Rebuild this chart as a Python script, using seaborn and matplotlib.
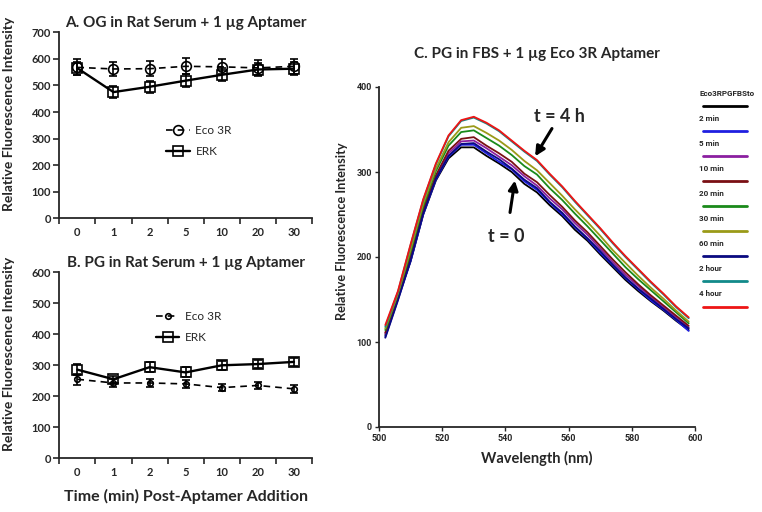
import numpy as np
import pandas as pd
import matplotlib
matplotlib.use("Agg")
import matplotlib.pyplot as plt
import seaborn as sns
from matplotlib.lines import Line2D
from matplotlib import font_manager

# ---------------- data: panels A and B ----------------
times = ["0", "1", "2", "5", "10", "20", "30"]
a_eco = [568, 562, 563, 572, 570, 566, 572]
a_eco_err = [30, 28, 28, 30, 28, 28, 28]
a_erk = [565, 475, 495, 518, 540, 560, 563]
a_erk_err = [25, 22, 22, 25, 25, 25, 25]
b_eco = [255, 243, 243, 240, 228, 235, 224]
b_eco_err = [18, 12, 12, 14, 12, 12, 12]
b_erk = [286, 255, 294, 277, 300, 304, 311]
b_erk_err = [18, 12, 16, 16, 14, 14, 14]

# ---------------- data: panel C (spectra) ----------------
wavelength = [502, 506, 510, 514, 518, 522, 526, 530, 534, 538, 542, 546, 550,
              554, 558, 562, 566, 570, 574, 578, 582, 586, 590, 594, 598]
spec_t0 = [108, 152, 195, 250, 290, 316, 329, 329, 319, 310, 300, 286, 276,
           261, 248, 232, 219, 203, 188, 173, 160, 148, 137, 125, 114]
spec_2min = [106, 150, 195, 250, 291, 318, 332, 332, 322, 312, 303, 289, 279,
             264, 250, 235, 221, 205, 190, 175, 162, 149, 138, 126, 113]
spec_5min = [110, 153, 199, 254, 294, 322, 336, 337, 328, 318, 308, 295, 284,
             269, 256, 240, 226, 210, 194, 179, 166, 153, 141, 129, 117]
spec_10min = [111, 154, 201, 256, 296, 325, 339, 341, 331, 322, 312, 298, 288,
              273, 259, 243, 229, 213, 197, 182, 168, 155, 143, 131, 119]
spec_20min = [114, 156, 206, 260, 301, 331, 347, 349, 340, 331, 320, 307, 297,
              281, 267, 251, 236, 220, 204, 188, 174, 161, 148, 135, 122]
spec_30min = [116, 157, 209, 263, 304, 335, 352, 354, 346, 337, 326, 313, 302,
              287, 272, 256, 241, 225, 208, 193, 178, 164, 151, 137, 124]
spec_60min = [105, 149, 196, 251, 292, 319, 333, 334, 324, 315, 304, 291, 281,
              265, 252, 236, 222, 207, 191, 176, 163, 151, 139, 127, 116]
spec_2hour = [118, 159, 214, 267, 309, 342, 360, 364, 357, 348, 336, 324, 313,
              297, 282, 265, 249, 233, 216, 200, 185, 170, 156, 141, 128]
spec_4hour = [120, 160, 215, 268, 310, 343, 361, 365, 358, 349, 337, 325, 314,
              298, 283, 266, 250, 234, 217, 201, 186, 171, 157, 142, 129]
spec_labels = ["Eco3RPGFBSto", "2 min", "5 min", "10 min", "20 min", "30 min",
               "60 min", "2 hour", "4 hour"]
spec_colors = ["#000000", "#1f1fe0", "#8b1fa0", "#7a0f14", "#1a8a1a",
               "#9a9a18", "#0a0a80", "#128a8a", "#ee1515"]
spectra = [spec_t0, spec_2min, spec_5min, spec_10min, spec_20min, spec_30min,
           spec_60min, spec_2hour, spec_4hour]

# ---------------- style ----------------
sns.set_theme(style="ticks")
plt.rcParams['font.family'] = ['Lato', 'DejaVu Sans']
plt.rcParams['axes.linewidth'] = 1.3

installed = {f.name for f in font_manager.fontManager.ttflist}
narrow = ['Liberation Sans Narrow', 'DejaVu Sans'] \
    if 'Liberation Sans Narrow' in installed else ['Roboto', 'DejaVu Sans']

W, H = 762, 512
fig = plt.figure(figsize=(W / 100, H / 100), dpi=100)


def fx(px):
    return px / W


def fy(py):
    return 1 - py / H


def panel(rect, eco, eco_err, erk, erk_err, ymax, title, eco_ms, leg_anchor):
    ax = fig.add_axes(rect)
    x = np.arange(len(times))
    df_eco = pd.DataFrame({"x": x, "y": eco})
    df_erk = pd.DataFrame({"x": x, "y": erk})
    ax.errorbar(x, eco, yerr=eco_err, fmt="none", ecolor="black",
                elinewidth=1.2, capsize=3, capthick=1.2, zorder=2)
    ax.errorbar(x, erk, yerr=erk_err, fmt="none", ecolor="black",
                elinewidth=1.2, capsize=3, capthick=1.2, zorder=2)
    sns.lineplot(data=df_eco, x="x", y="y", ax=ax, color="black", lw=1.2,
                 linestyle=(0, (4, 3)), marker="o", markersize=eco_ms,
                 markerfacecolor="none", markeredgecolor="black",
                 markeredgewidth=1.2, label="Eco 3R", zorder=3)
    sns.lineplot(data=df_erk, x="x", y="y", ax=ax, color="black", lw=1.7,
                 marker="s", markersize=7.5, markerfacecolor="none",
                 markeredgecolor="black", markeredgewidth=1.2, label="ERK",
                 zorder=3)
    ax.set_xlim(-0.5, len(times) - 0.5)
    ax.set_ylim(0, ymax)
    ax.set_yticks(np.arange(0, ymax + 1, 100))
    ax.set_xticks(np.arange(-0.5, len(times), 1.0))
    ax.set_xticklabels([])
    ax.set_xticks(x, minor=True)
    ax.set_xticklabels(times, minor=True)
    ax.tick_params(axis="x", which="minor", length=0, pad=6)
    ax.tick_params(axis="x", which="major", length=4, width=1.2, direction="out")
    ax.tick_params(axis="y", length=4, width=1.2, direction="out", pad=2)
    for lab in ax.get_xticklabels(minor=True) + ax.get_yticklabels():
        lab.set_fontsize(8)
        lab.set_fontweight("bold")
    ax.set_xlabel("")
    ax.set_ylabel("Relative Fluorescence Intensity", fontsize=10,
                  fontweight="bold")
    ax.yaxis.set_label_coords(-0.175, 0.56)
    ax.set_title(title, fontsize=11, fontweight="bold", pad=4)
    sns.despine(ax=ax)
    ax.legend(loc="upper left", bbox_to_anchor=leg_anchor, frameon=False,
              fontsize=8.5, handlelength=2.0, handletextpad=0.5,
              labelspacing=0.9)
    return ax


axA = panel([fx(59.3), fy(218.3), fx(312 - 59.3), (218.3 - 32.3) / H],
            a_eco, a_eco_err, a_erk, a_erk_err, 700,
            "A. OG in Rat Serum + 1 µg Aptamer", 7, (0.38, 0.56))
axB = panel([fx(59.3), fy(458.3), fx(312 - 59.3), (458.3 - 272.3) / H],
            b_eco, b_eco_err, b_erk, b_erk_err, 600,
            "B. PG in Rat Serum + 1 µg Aptamer", 4, (0.34, 0.85))
axB.set_xlabel("Time (min) Post-Aptamer Addition", fontsize=11.5,
               fontweight="bold", labelpad=8)

# ---------------- panel C ----------------
axC = fig.add_axes([fx(379), fy(427), fx(695 - 379), (427 - 87) / H])
for lab, col, spec in zip(spec_labels, spec_colors, spectra):
    sns.lineplot(x=wavelength, y=spec, ax=axC, color=col, lw=1.3)
axC.set_xlim(500, 600)
axC.set_ylim(0, 400)
axC.set_xticks(np.arange(500, 601, 20))
axC.set_yticks(np.arange(0, 401, 100))
axC.tick_params(length=3, width=1.0, direction="out", pad=2)
for lab in axC.get_xticklabels() + axC.get_yticklabels():
    lab.set_fontsize(6.5)
    lab.set_fontweight("bold")
    lab.set_family(narrow)
sns.despine(ax=axC)
axC.set_xlabel("Wavelength (nm)", fontsize=10.5, fontweight="bold", labelpad=6)
axC.set_ylabel("Relative Fluorescence Intensity", fontsize=9.2,
               fontweight="bold")
axC.yaxis.set_label_coords(-0.097, 0.577)
axC.set_title("C. PG in FBS + 1 µg Eco 3R Aptamer", fontsize=11,
              fontweight="bold", pad=21)

axC.annotate("t = 4 h", xy=(549.4, 318.5), xytext=(557, 355),
             fontsize=13, fontweight="bold", ha="center", va="bottom",
             arrowprops=dict(arrowstyle="-|>", color="black", lw=2.2,
                             mutation_scale=14, shrinkA=0, shrinkB=0))
axC.annotate("t = 0", xy=(543, 290), xytext=(540.3, 224),
             fontsize=13, fontweight="bold", ha="center", va="center",
             arrowprops=dict(arrowstyle="-|>", color="black", lw=2.2,
                             mutation_scale=14, shrinkA=9, shrinkB=0))

# manual legend (label above a line sample)
for i, (lab, col) in enumerate(zip(spec_labels, spec_colors)):
    ly = 105.7 + i * 25.1
    fig.text(fx(699), fy(ly - 12.5), lab, fontsize=5.8, fontweight="bold",
             family=narrow, va="center", ha="left")
    fig.add_artist(Line2D([fx(702.7), fx(746.7)], [fy(ly), fy(ly)],
                          transform=fig.transFigure, color=col, lw=2.0))

fig.savefig("out.png", dpi=100)
